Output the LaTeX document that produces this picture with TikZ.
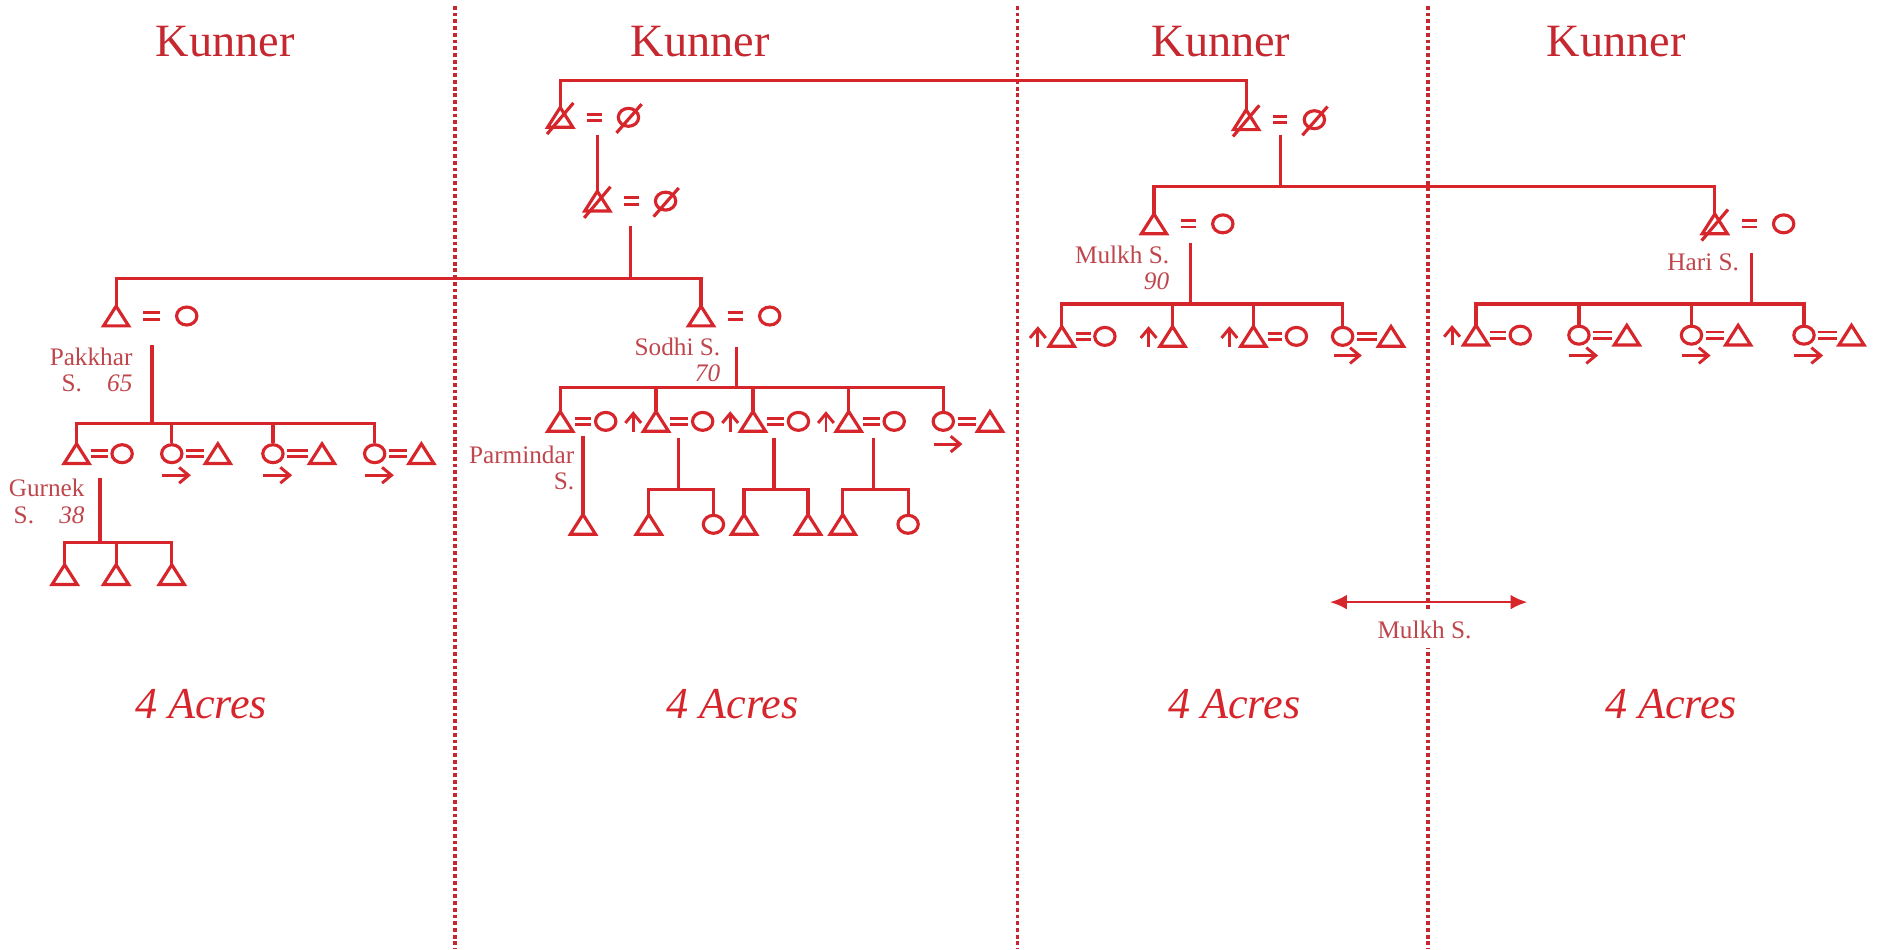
\documentclass[tikz,border=0pt]{standalone}
\usepackage{fontspec}
\setmainfont{Liberation Serif}
\usepackage{tikz}
\usetikzlibrary{shapes.geometric, arrows.meta, calc}
\definecolor{kinred}{RGB}{214, 38, 44}
\definecolor{namered}{RGB}{190, 70, 76}
\definecolor{plotred}{RGB}{198, 40, 48}

\begin{document}
\begin{tikzpicture}[x=0.02cm, y=-0.02cm,
    kin/.style={draw=kinred, line width=1.5pt},
    male/.style={rectangle, minimum width=0.42cm, minimum height=0.33cm, inner sep=0pt, outer sep=0pt,
        append after command={\pgfextra{\draw[kinred, line width=1.5pt] (\tikzlastnode.south west) -- (\tikzlastnode.south east) -- (\tikzlastnode.north) -- cycle;}}},
    female/.style={ellipse, draw=kinred, line width=1.5pt, minimum width=0.34cm, minimum height=0.30cm, inner sep=0pt},
    slash/.style={draw=kinred, line width=1.5pt},
    deadmale/.style={male, append after command={([shift={(-11,14)}]\tikzlastnode.center) edge[slash] ([shift={(11,-12)}]\tikzlastnode.center)}},
    deadfemale/.style={female, append after command={([shift={(-10,13)}]\tikzlastnode.center) edge[slash] ([shift={(11,-11)}]\tikzlastnode.center)}},
    marry/.style={draw=kinred, double=white, double distance=1.6pt, line width=1.4pt, shorten <=0.24cm, shorten >=0.24cm},
    marrywide/.style={marry, shorten <=0.45cm, shorten >=0.45cm},
    movearr/.style={draw=kinred, line width=1.4pt, -{Straight Barb[length=4.5pt, width=7.5pt]}},
    bigarr/.style={draw=kinred, line width=1.3pt, {Latex[length=8pt, width=7pt]}-{Latex[length=8pt, width=7pt]}},
    plotline/.style={draw=plotred, line width=1.6pt, dash pattern=on 1.8pt off 1.4pt},
    plotlbl/.style={text=plotred, font=\fontsize{22}{26}\selectfont, inner sep=0pt},
    acrelbl/.style={text=kinred, font=\fontsize{21}{25}\selectfont\itshape, inner sep=0pt},
    namelbl/.style={text=namered, font=\fontsize{12}{12.5}\selectfont, align=right, inner sep=0pt}]

        \useasboundingbox (0,0) rectangle (1568,792.8);

        % Plot boundaries
        \draw[plotline] (380,5) -- (380,793);
        \draw[plotline] (850,5) -- (850,793);
        \draw[plotline] (1193,5) -- (1193,793);

        % Plot names
        \node[plotlbl] (kun1) at (188,35) {Kunner};
        \node[plotlbl] (kun2) at (585,35) {Kunner};
        \node[plotlbl] (kun3) at (1020,35) {Kunner};
        \node[plotlbl] (kun4) at (1350,35) {Kunner};

        % Plot sizes
        \node[acrelbl] (acre1) at (168,588) {4 Acres};
        \node[acrelbl] (acre2) at (612,588) {4 Acres};
        \node[acrelbl] (acre3) at (1031,588) {4 Acres};
        \node[acrelbl] (acre4) at (1396,588) {4 Acres};

        % Top generation
        \node[deadmale] (gfa) at (468,98) {};
        \node[deadfemale] (gma) at (525,98) {};
        \draw[marrywide] (gfa.center) -- (gma.center);

        \node[deadmale] (gfb) at (1041,100) {};
        \node[deadfemale] (gmb) at (1098,100) {};
        \draw[marrywide] (gfb.center) -- (gmb.center);

        \coordinate (topbar) at (755,67);
        \draw[kin] (gfa.north) |- (topbar) -| (gfb.north);

        % Second generation (left)
        \node[deadmale] (fb) at (499,168) {};
        \node[deadfemale] (mb) at (556,168) {};
        \draw[marrywide] (fb.center) -- (mb.center);
        \coordinate (dgfa) at (499,113);
        \draw[kin] (dgfa) -- (fb.north);

        % Pakkhar and Sodhi
        \node[male] (pk) at (97,264) {};
        \node[female] (pkw) at (156,264) {};
        \draw[marrywide] (pk.center) -- (pkw.center);

        \node[male] (sd) at (585.6,264) {};
        \node[female] (sdw) at (643,264) {};
        \draw[marrywide] (sd.center) -- (sdw.center);

        \coordinate (dfb) at (527,189);
        \coordinate (barfb) at (527,233);
        \draw[kin] (dfb) -- (barfb);
        \draw[kin] (pk.north) |- (barfb) -| (sd.north);

        \node[namelbl, anchor=north east] (pklbl) at (111,290) {Pakkhar\\S.\quad\textit{65}};
        \node[namelbl, anchor=north east] (sdlbl) at (602,282) {Sodhi S.\\\textit{70}};

        % Mulkh and Hari
        \node[male] (mk) at (964,187) {};
        \node[female] (mkw) at (1021.5,187) {};
        \draw[marrywide] (mk.center) -- (mkw.center);

        \node[deadmale] (hr) at (1432.5,187) {};
        \node[female] (hrw) at (1490,187) {};
        \draw[marrywide] (hr.center) -- (hrw.center);

        \coordinate (dgfb) at (1070,113);
        \coordinate (bargfb) at (1070,156);
        \draw[kin] (dgfb) -- (bargfb);
        \draw[kin] (mk.north) |- (bargfb) -| (hr.north);

        \node[namelbl, anchor=north east] (mklbl) at (977,205) {Mulkh S.\\\textit{90}};
        \node[namelbl, anchor=north east] (hrlbl) at (1453,212) {Hari S.};

        % Pakkhar's children
        \node[male] (gk) at (64,379) {};
        \node[female] (gkw) at (102,379) {};
        \draw[marry] (gk.center) -- (gkw.center);

        \node[female] (pkc2) at (143.5,379) {};
        \node[male] (pkc2h) at (182,379) {};
        \draw[marry] (pkc2.center) -- (pkc2h.center);

        \node[female] (pkc3) at (228,379) {};
        \node[male] (pkc3h) at (269,379) {};
        \draw[marry] (pkc3.center) -- (pkc3h.center);

        \node[female] (pkc4) at (313,379) {};
        \node[male] (pkc4h) at (352,379) {};
        \draw[marry] (pkc4.center) -- (pkc4h.center);

        \coordinate (dpk) at (127,288);
        \coordinate (barpk) at (127,354);
        \draw[kin] (dpk) -- (barpk);
        \draw[kin] (gk.north) |- (barpk) -| (pkc4.north);
        \draw[kin] (pkc2.north) -- (pkc2.north |- barpk);
        \draw[kin] (pkc3.north) -- (pkc3.north |- barpk);

        \draw[movearr] ([shift={(-8,18)}]pkc2.center) -- ++(24,0);
        \draw[movearr] ([shift={(-8,18)}]pkc3.center) -- ++(24,0);
        \draw[movearr] ([shift={(-8,18)}]pkc4.center) -- ++(24,0);

        % Gurnek's children
        \node[namelbl, anchor=north east] (gklbl) at (71,400) {Gurnek\\S.\quad\textit{38}};
        \node[male] (gka) at (54,480) {};
        \node[male] (gkb) at (97,480) {};
        \node[male] (gkc) at (143.5,480) {};
        \coordinate (dgk) at (83.5,399);
        \coordinate (bargk) at (83.5,453);
        \draw[kin] (dgk) -- (bargk);
        \draw[kin] (gka.north) |- (bargk) -| (gkc.north);
        \draw[kin] (gkb.north) -- (gkb.north |- bargk);

        % Sodhi's children
        \node[male] (pm) at (468,352) {};
        \node[female] (pmw) at (506,352) {};
        \draw[marry] (pm.center) -- (pmw.center);

        \node[male] (sdc2) at (548,352) {};
        \node[female] (sdc2w) at (587,352) {};
        \draw[marry] (sdc2.center) -- (sdc2w.center);

        \node[male] (sdc3) at (629,352) {};
        \node[female] (sdc3w) at (667,352) {};
        \draw[marry] (sdc3.center) -- (sdc3w.center);

        \node[male] (sdc4) at (709,352) {};
        \node[female] (sdc4w) at (747,352) {};
        \draw[marry] (sdc4.center) -- (sdc4w.center);

        \node[female] (sdc5) at (788,352) {};
        \node[male] (sdc5h) at (827,352) {};
        \draw[marry] (sdc5.center) -- (sdc5h.center);

        \coordinate (dsd) at (615,290);
        \coordinate (barsd) at (615,324);
        \draw[kin] (dsd) -- (barsd);
        \draw[kin] (pm.north) |- (barsd) -| (sdc5.north);
        \draw[kin] (sdc2.north) -- (sdc2.north |- barsd);
        \draw[kin] (sdc3.north) -- (sdc3.north |- barsd);
        \draw[kin] (sdc4.north) -- (sdc4.north |- barsd);

        \draw[movearr] ([shift={(-19,8.5)}]sdc2.center) -- ++(0,-17);
        \draw[movearr] ([shift={(-19,8.5)}]sdc3.center) -- ++(0,-17);
        \draw[movearr] ([shift={(-19,8.5)}]sdc4.center) -- ++(0,-17);
        \draw[movearr] ([shift={(-8,19)}]sdc5.center) -- ++(24,0);

        \node[namelbl, anchor=north east] (pmlbl) at (480,372) {Parmindar\\S.};

        % Sodhi's grandchildren
        \node[male] (pma) at (487,438) {};
        \coordinate (dpm) at (487,364);
        \draw[kin] (dpm) -- (pma.north);

        \node[male] (sdc2a) at (542,438) {};
        \node[female] (sdc2b) at (596,438) {};
        \coordinate (dsdc2) at (567,366);
        \coordinate (barsdc2) at (567,409);
        \draw[kin] (dsdc2) -- (barsdc2);
        \draw[kin] (sdc2a.north) |- (barsdc2) -| (sdc2b.north);

        \node[male] (sdc3a) at (621.5,438) {};
        \node[male] (sdc3b) at (675,438) {};
        \coordinate (dsdc3) at (646.6,366);
        \coordinate (barsdc3) at (646.6,409);
        \draw[kin] (dsdc3) -- (barsdc3);
        \draw[kin] (sdc3a.north) |- (barsdc3) -| (sdc3b.north);

        \node[male] (sdc4a) at (704,438) {};
        \node[female] (sdc4b) at (758.6,438) {};
        \coordinate (dsdc4) at (730,366);
        \coordinate (barsdc4) at (730,409);
        \draw[kin] (dsdc4) -- (barsdc4);
        \draw[kin] (sdc4a.north) |- (barsdc4) -| (sdc4b.north);

        % Mulkh's children
        \node[male] (mkc1) at (887,281) {};
        \node[female] (mkc1w) at (923,281) {};
        \draw[marry] (mkc1.center) -- (mkc1w.center);

        \node[male] (mkc2) at (979.5,281) {};

        \node[male] (mkc3) at (1047,281) {};
        \node[female] (mkc3w) at (1083,281) {};
        \draw[marry] (mkc3.center) -- (mkc3w.center);

        \node[female] (mkc4) at (1121.6,281) {};
        \node[male] (mkc4h) at (1162,281) {};
        \draw[marry] (mkc4.center) -- (mkc4h.center);

        \coordinate (dmk) at (994.5,203);
        \coordinate (barmk) at (994.5,254);
        \draw[kin] (dmk) -- (barmk);
        \draw[kin] (mkc1.north) |- (barmk) -| (mkc4.north);
        \draw[kin] (mkc2.north) -- (mkc2.north |- barmk);
        \draw[kin] (mkc3.north) -- (mkc3.north |- barmk);

        \draw[movearr] ([shift={(-20,8.5)}]mkc1.center) -- ++(0,-17);
        \draw[movearr] ([shift={(-20,8.5)}]mkc2.center) -- ++(0,-17);
        \draw[movearr] ([shift={(-20,8.5)}]mkc3.center) -- ++(0,-17);
        \draw[movearr] ([shift={(-7,16)}]mkc4.center) -- ++(23,0);

        % Hari's children
        \node[male] (hrc1) at (1233,280) {};
        \node[female] (hrc1w) at (1270,280) {};
        \draw[marry] (hrc1.center) -- (hrc1w.center);

        \node[female] (hrc2) at (1319,280) {};
        \node[male] (hrc2h) at (1359,280) {};
        \draw[marry] (hrc2.center) -- (hrc2h.center);

        \node[female] (hrc3) at (1413,280) {};
        \node[male] (hrc3h) at (1452,280) {};
        \draw[marry] (hrc3.center) -- (hrc3h.center);

        \node[female] (hrc4) at (1507,280) {};
        \node[male] (hrc4h) at (1546.7,280) {};
        \draw[marry] (hrc4.center) -- (hrc4h.center);

        \coordinate (dhr) at (1463,211.6);
        \coordinate (barhr) at (1463,254);
        \draw[kin] (dhr) -- (barhr);
        \draw[kin] (hrc1.north) |- (barhr) -| (hrc4.north);
        \draw[kin] (hrc2.north) -- (hrc2.north |- barhr);
        \draw[kin] (hrc3.north) -- (hrc3.north |- barhr);

        \draw[movearr] ([shift={(-20,8.5)}]hrc1.center) -- ++(0,-17);
        \draw[movearr] ([shift={(-8,17)}]hrc2.center) -- ++(24,0);
        \draw[movearr] ([shift={(-8,17)}]hrc3.center) -- ++(24,0);
        \draw[movearr] ([shift={(-8,17)}]hrc4.center) -- ++(24,0);

        % Mulkh S. across the boundary
        \coordinate (mkfrom) at (1111,503);
        \coordinate (mkto) at (1276,503);
        \draw[bigarr] (mkfrom) -- (mkto);
        \node[namelbl, fill=white, inner xsep=2pt, inner ysep=4.5pt] (mkmove) at (1190,526) {Mulkh S.};

    \end{tikzpicture}
\end{document}
